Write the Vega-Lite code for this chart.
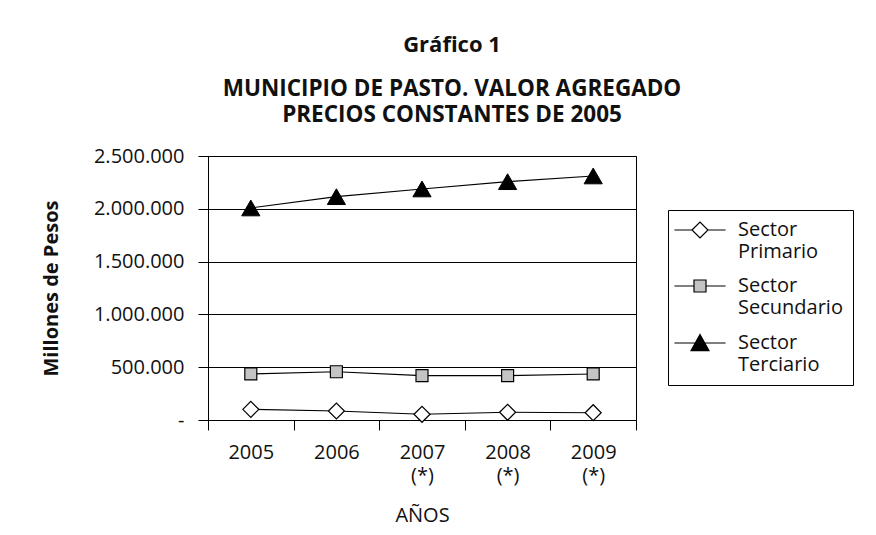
{
  "$schema": "https://vega.github.io/schema/vega-lite/v6.json",
  "width": 428,
  "height": 264,
  "autosize": {"type": "none"},
  "padding": {"left": 208, "top": 156, "right": 240, "bottom": 115},
  "background": "white",
  "title": {
    "text": "Gráfico 1",
    "subtitle": ["MUNICIPIO DE PASTO. VALOR AGREGADO", "PRECIOS CONSTANTES DE 2005"],
    "anchor": "middle",
    "dx": 30,
    "font": "Open Sans",
    "fontSize": 22,
    "fontWeight": "bold",
    "color": "#111111",
    "subtitleFont": "Open Sans",
    "subtitleFontSize": 22.5,
    "subtitleFontWeight": "bold",
    "subtitleColor": "#111111",
    "subtitleLineHeight": 26,
    "subtitlePadding": 21,
    "offset": 19
  },
  "data": {
    "values": [
      {"anio": "2005", "sector": "Sector Primario", "valor": 101000},
      {"anio": "2006", "sector": "Sector Primario", "valor": 85000},
      {"anio": "2007", "sector": "Sector Primario", "valor": 54000},
      {"anio": "2008", "sector": "Sector Primario", "valor": 73000},
      {"anio": "2009", "sector": "Sector Primario", "valor": 69000},
      {"anio": "2005", "sector": "Sector Secundario", "valor": 436000},
      {"anio": "2006", "sector": "Sector Secundario", "valor": 457000},
      {"anio": "2007", "sector": "Sector Secundario", "valor": 420000},
      {"anio": "2008", "sector": "Sector Secundario", "valor": 420000},
      {"anio": "2009", "sector": "Sector Secundario", "valor": 436000},
      {"anio": "2005", "sector": "Sector Terciario", "valor": 2008000},
      {"anio": "2006", "sector": "Sector Terciario", "valor": 2115000},
      {"anio": "2007", "sector": "Sector Terciario", "valor": 2188000},
      {"anio": "2008", "sector": "Sector Terciario", "valor": 2257000},
      {"anio": "2009", "sector": "Sector Terciario", "valor": 2311000}
    ]
  },
  "encoding": {
    "x": {
      "field": "anio",
      "type": "ordinal",
      "scale": {"type": "band", "paddingInner": 0, "paddingOuter": 0},
      "axis": {
        "title": "AÑOS",
        "titleFontWeight": "normal",
        "titleFontSize": 20,
        "titlePadding": 20,
        "labelAngle": 0,
        "tickBand": "extent",
        "tickSize": 10,
        "labelPadding": 12,
        "labelLineHeight": 23,
        "labelExpr": "toNumber(datum.value) >= 2007 ? [datum.value, '(*)'] : datum.value"
      }
    },
    "y": {
      "field": "valor",
      "type": "quantitative",
      "scale": {"domain": [0, 2500000], "nice": false, "zero": true},
      "axis": {
        "values": [0, 500000, 1000000, 1500000, 2000000, 2500000],
        "title": "Millones de Pesos",
        "titleFontWeight": "bold",
        "titleFontSize": 20,
        "titlePadding": 32,
        "tickSize": 10,
        "labelPadding": 14,
        "grid": true,
        "labelExpr": "datum.value == 0 ? '-' : replace(format(datum.value, ','), regexp(',', 'g'), '.')"
      }
    }
  },
  "layer": [
    {
      "mark": {"type": "point", "filled": true, "stroke": "black", "strokeWidth": 1, "size": 1, "opacity": 1},
      "encoding": {
        "shape": {
          "field": "sector",
          "type": "nominal",
          "title": null,
          "scale": {
            "domain": ["Sector Primario", "Sector Secundario", "Sector Terciario"],
            "range": [
              "M-3.2,0H-1M1,0H3.2M-1,0L0,-1L1,0L0,1Z",
              "M-3.2,0H-0.75M0.75,0H3.2M-0.75,-0.75H0.75V0.75H-0.75Z",
              "M-3.2,0H3.2M0,-1.05L1.12,0.95L-1.12,0.95Z"
            ]
          },
          "legend": {
            "orient": "none",
            "legendX": 460,
            "legendY": 54,
            "title": null,
            "strokeColor": "black",
            "padding": 10,
            "symbolSize": 256,
            "symbolOffset": 12,
            "symbolStrokeColor": "black",
            "symbolStrokeWidth": 1.2,
            "labelFont": "Open Sans",
            "labelFontSize": 20,
            "labelColor": "#111111",
            "labelOffset": 28,
            "labelLimit": 300,
            "rowPadding": 14,
            "labelExpr": "split(datum.label, ' ')"
          }
        },
        "fill": {
          "field": "sector",
          "type": "nominal",
          "title": null,
          "scale": {"domain": ["Sector Primario", "Sector Secundario", "Sector Terciario"], "range": ["#ffffff", "#c4c4c4", "#000000"]},
          "legend": {
            "orient": "none",
            "legendX": 460,
            "legendY": 54,
            "title": null,
            "strokeColor": "black",
            "padding": 10,
            "symbolSize": 256,
            "symbolOffset": 12,
            "symbolStrokeColor": "black",
            "symbolStrokeWidth": 1.2,
            "labelFont": "Open Sans",
            "labelFontSize": 20,
            "labelColor": "#111111",
            "labelOffset": 28,
            "labelLimit": 300,
            "rowPadding": 14,
            "labelExpr": "split(datum.label, ' ')"
          }
        },
        "stroke": {
          "field": "sector",
          "type": "nominal",
          "title": null,
          "scale": {"domain": ["Sector Primario", "Sector Secundario", "Sector Terciario"], "range": ["#000000", "#000000", "#000000"]},
          "legend": {
            "orient": "none",
            "legendX": 460,
            "legendY": 54,
            "title": null,
            "strokeColor": "black",
            "padding": 10,
            "symbolSize": 256,
            "symbolOffset": 12,
            "symbolStrokeColor": "black",
            "symbolStrokeWidth": 1.2,
            "labelFont": "Open Sans",
            "labelFontSize": 20,
            "labelColor": "#111111",
            "labelOffset": 28,
            "labelLimit": 300,
            "rowPadding": 14,
            "labelExpr": "split(datum.label, ' ')"
          }
        }
      }
    },
    {
      "mark": {"type": "line", "color": "black", "strokeWidth": 1.1},
      "encoding": {"detail": {"field": "sector", "type": "nominal"}}
    },
    {
      "transform": [{"filter": "datum.sector == 'Sector Primario'"}],
      "mark": {"type": "point", "shape": "diamond", "size": 256, "filled": true, "fill": "#ffffff", "stroke": "black", "strokeWidth": 1.2, "opacity": 1}
    },
    {
      "transform": [{"filter": "datum.sector == 'Sector Secundario'"}],
      "mark": {"type": "point", "shape": "square", "size": 144, "filled": true, "fill": "#c4c4c4", "stroke": "black", "strokeWidth": 1.2, "opacity": 1}
    },
    {
      "transform": [{"filter": "datum.sector == 'Sector Terciario'"}],
      "mark": {"type": "point", "shape": "triangle-up", "size": 330, "filled": true, "fill": "#000000", "stroke": "black", "strokeWidth": 1, "opacity": 1}
    }
  ],
  "config": {
    "font": "Open Sans",
    "view": {"stroke": "black", "strokeWidth": 1},
    "axis": {
      "labelFont": "Open Sans",
      "titleFont": "Open Sans",
      "labelFontSize": 20,
      "labelColor": "#111111",
      "titleColor": "#111111",
      "domainColor": "black",
      "tickColor": "black",
      "gridColor": "black",
      "gridOpacity": 1,
      "domainWidth": 1,
      "tickWidth": 1,
      "gridWidth": 1
    }
  }
}
